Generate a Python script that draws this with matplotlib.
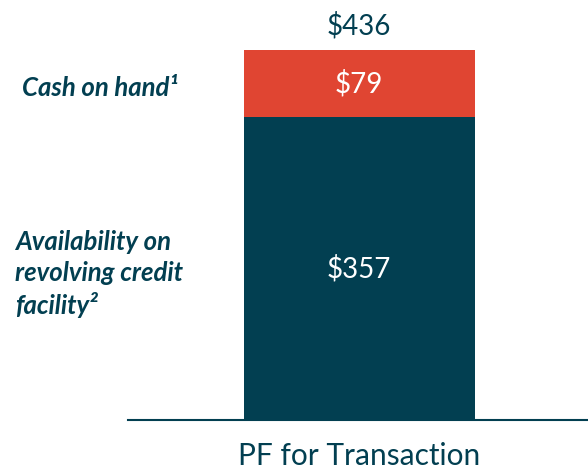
import matplotlib
matplotlib.use("Agg")
import matplotlib.pyplot as plt

plt.rcParams['font.family'] = ['Lato', 'DejaVu Sans']

category = ["PF for Transaction"]
revolver = [357]
cash = [79]
segment_labels = ["Availability on\nrevolving credit\nfacility\u00b2", "Cash on hand\u00b9"]

teal = "#023F51"
red = "#E04532"

fig = plt.figure(figsize=(5.88, 4.73), dpi=100)
ax = fig.add_axes([0.2177, 0.112, 0.7823, 0.782])

x = [0]
ax.bar(x, revolver, width=1.0, color=teal)
ax.bar(x, cash, width=1.0, bottom=revolver, color=red)

total = revolver[0] + cash[0]
ax.text(0, revolver[0] / 2, f"\\${revolver[0]}", ha="center", va="center",
        color="white", fontsize=20)
ax.text(0, revolver[0] + cash[0] / 2, f"\\${cash[0]}", ha="center", va="center",
        color="white", fontsize=20)
ax.text(0, total + 12, f"\\${total}", ha="center", va="bottom",
        color=teal, fontsize=20)

ax.set_xlim(-1.0, 0.99)
ax.set_ylim(0, total)
for s in ["top", "right", "left"]:
    ax.spines[s].set_visible(False)
ax.spines["bottom"].set_color(teal)
ax.spines["bottom"].set_linewidth(1.5)
ax.set_yticks([])
ax.set_xticks(x)
ax.set_xticklabels(category, fontsize=21.5, color=teal)
ax.tick_params(axis="x", length=0, pad=16)

fig.text(22 / 588, 1 - 88 / 473, segment_labels[1], ha="left", va="center",
         color=teal, fontsize=18.5, fontweight="bold", fontstyle="italic")
fig.text(15 / 588, 1 - 274 / 473, segment_labels[0], ha="left", va="center",
         color=teal, fontsize=18.5, fontweight="bold", fontstyle="italic",
         linespacing=1.35)

fig.savefig("out.png", dpi=100)
